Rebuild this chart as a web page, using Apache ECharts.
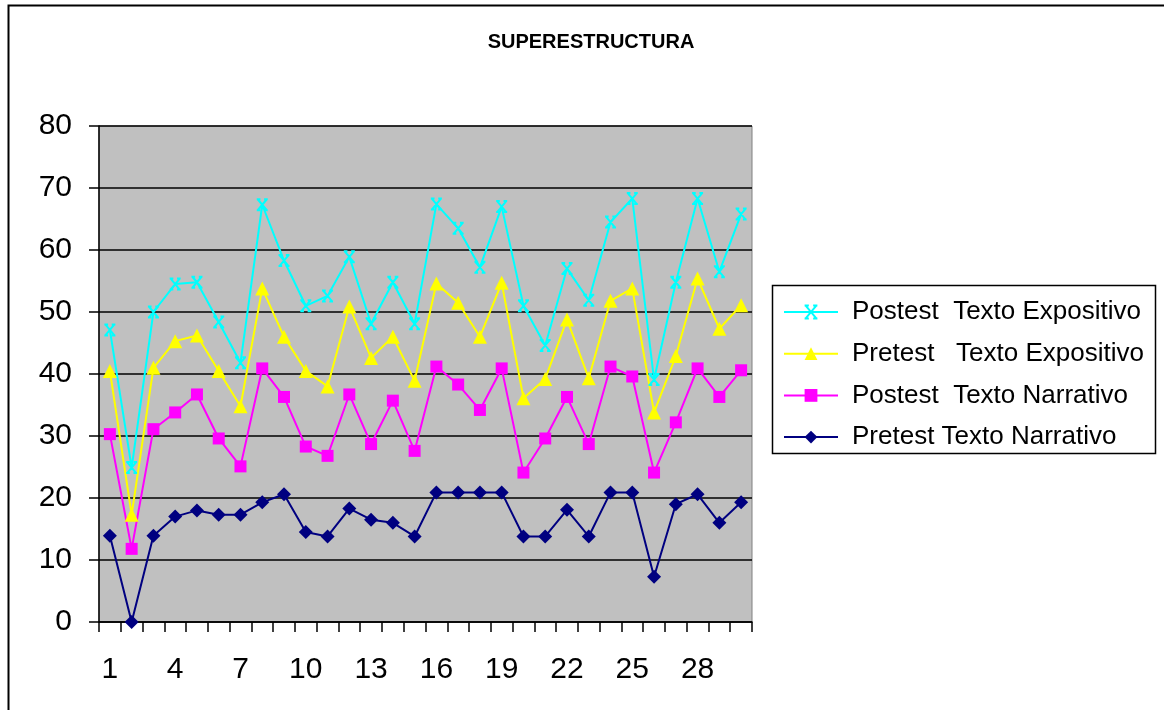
<!DOCTYPE html>
<html>
<head>
<meta charset="utf-8">
<script src="https://cdn.jsdelivr.net/npm/echarts@6/dist/echarts.min.js"></script>
<style>
html,body{margin:0;padding:0;background:#fff;}
#c{width:1164px;height:710px;}
</style>
</head>
<body>
<div id="c"></div>
<script>
var categories = ['1','2','3','4','5','6','7','8','9','10','11','12','13','14','15','16','17','18','19','20','21','22','23','24','25','26','27','28','29','30'];
var yTicks = [0,10,20,30,40,50,60,70,80];
var seriesNames = ['Postest  Texto Expositivo','Pretest   Texto Expositivo','Postest  Texto Narrativo','Pretest Texto Narrativo'];
var postestExpositivo = [47.1,24.9,50,54.5,54.8,48.4,41.8,67.3,58.3,51,52.6,58.9,48.1,54.8,48.1,67.4,63.5,57.2,67,51,44.6,57,51.9,64.5,68.3,39.1,54.8,68.3,56.5,65.8];
var pretestExpositivo = [40.5,17.3,41,45.3,46.2,40.5,34.8,53.8,46,40.5,38,50.9,42.6,46,38.9,54.6,51.5,46,54.7,36.1,39.2,48.8,39.3,51.8,53.8,33.8,42.9,55.4,47.3,51.1];
var postestNarrativo = [30.3,11.8,31.1,33.8,36.7,29.6,25.1,40.9,36.3,28.3,26.8,36.7,28.7,35.7,27.6,41.2,38.3,34.2,40.9,24.1,29.6,36.3,28.7,41.2,39.6,24.1,32.2,40.9,36.3,40.6];
var pretestNarrativo = [13.9,0,13.9,17,18,17.3,17.3,19.3,20.6,14.5,13.8,18.3,16.5,16,13.8,20.9,20.9,20.9,20.9,13.8,13.8,18.1,13.8,20.9,20.9,7.3,19,20.6,16,19.3];

var chart = echarts.init(document.getElementById('c'));
var xPath = 'path://M0,0L10,10M10,0L0,10M-1,0L3,0M7,0L11,0M-1,10L3,10M7,10L11,10';
function mk(name, data, color, symbol, size, extra) {
  var s = {
    name: name, type: 'line', data: data,
    symbol: symbol, symbolSize: size, showSymbol: true,
    lineStyle: {color: color, width: 2},
    itemStyle: {color: color},
    emphasis: {disabled: true},
    animation: false
  };
  if (extra) { for (var k in extra) s[k] = extra[k]; }
  return s;
}
var option = {
  animation: false,
  backgroundColor: '#ffffff',
  textStyle: {fontFamily: 'Liberation Sans, Arial, sans-serif'},
  title: {
    text: 'SUPERESTRUCTURA',
    left: 586, top: 27, textAlign: 'center',
    textStyle: {fontFamily: 'Liberation Sans', fontWeight: 'bold', fontSize: 20, color: '#000'}
  },
  graphic: [
    {type: 'rect', shape: {x: 8.5, y: 5.5, width: 1300, height: 900}, style: {fill: 'none', stroke: '#000', lineWidth: 2}, silent: true},
    {type: 'rect', shape: {x: 772.5, y: 285.5, width: 383, height: 168}, style: {fill: '#fff', stroke: '#000', lineWidth: 1.5}, silent: true, z: -1}
  ],
  legend: {
    orient: 'vertical',
    left: 783, top: 299,
    padding: 0,
    itemWidth: 54, itemHeight: 16,
    itemGap: 15.7,
    data: seriesNames,
    textStyle: {fontFamily: 'Liberation Sans', fontSize: 26, color: '#000', lineHeight: 24, padding: [0,0,0,9]},
    selectedMode: false
  },
  grid: {
    left: 99, top: 126, width: 653, height: 496,
    show: true, backgroundColor: '#C0C0C0', borderColor: '#808080', borderWidth: 1,
    containLabel: false
  },
  xAxis: {
    type: 'category',
    data: categories,
    boundaryGap: true,
    axisLine: {lineStyle: {color: '#000', width: 1.5}},
    axisTick: {show: true, interval: 0, length: 10, lineStyle: {color: '#000', width: 1.5}},
    axisLabel: {interval: 2, margin: 33, fontSize: 30, color: '#000', fontFamily: 'Liberation Sans'},
    splitLine: {show: false}
  },
  yAxis: {
    type: 'value',
    min: yTicks[0], max: yTicks[yTicks.length-1], interval: 10,
    axisLine: {show: true, lineStyle: {color: '#000', width: 1.5}},
    axisTick: {show: true, length: 10, lineStyle: {color: '#000', width: 1.5}},
    axisLabel: {margin: 27, fontSize: 30, color: '#000', fontFamily: 'Liberation Sans'},
    splitLine: {show: true, lineStyle: {color: '#000', width: 1.5}}
  },
  series: [
    mk(seriesNames[0], postestExpositivo, '#00FFFF', xPath, 11, {itemStyle: {color: 'rgba(0,0,0,0)', borderColor: '#00FFFF', borderWidth: 2}}),
    mk(seriesNames[1], pretestExpositivo, '#FFFF00', 'triangle', 14),
    mk(seriesNames[2], postestNarrativo, '#FF00FF', 'rect', 12),
    mk(seriesNames[3], pretestNarrativo, '#000080', 'diamond', 14)
  ]
};
chart.setOption(option);
</script>
</body>
</html>
